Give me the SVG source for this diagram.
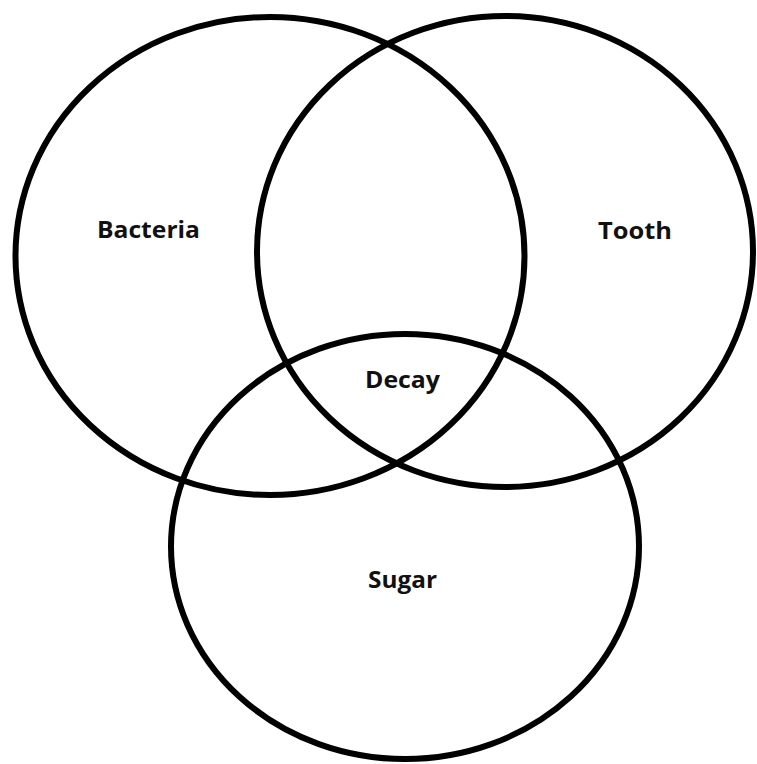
<svg xmlns="http://www.w3.org/2000/svg" width="757" height="764" viewBox="0 0 757 764">
<style>
.c{fill:none;stroke:#000;stroke-width:6}
.t{font-family:"Open Sans","Liberation Sans",sans-serif;font-weight:bold;font-size:23.5px;fill:#111;text-anchor:middle}
</style>
<rect width="757" height="764" fill="#fff"/>
<g id="bacteria"><ellipse class="c" cx="270" cy="256" rx="254.5" ry="239"/><text class="t" x="148.5" y="238" textLength="103" lengthAdjust="spacingAndGlyphs">Bacteria</text></g>
<g id="tooth"><ellipse class="c" cx="505" cy="251.5" rx="248" ry="235.5"/><text class="t" x="635" y="239" textLength="74" lengthAdjust="spacingAndGlyphs">Tooth</text></g>
<g id="sugar"><ellipse class="c" cx="405" cy="546.5" rx="234" ry="212.5"/><text class="t" x="402.5" y="588" textLength="69" lengthAdjust="spacingAndGlyphs">Sugar</text></g>
<g id="decay"><text class="t" x="402.5" y="388" textLength="75" lengthAdjust="spacingAndGlyphs">Decay</text></g>
<g id="connectors"/>
</svg>
